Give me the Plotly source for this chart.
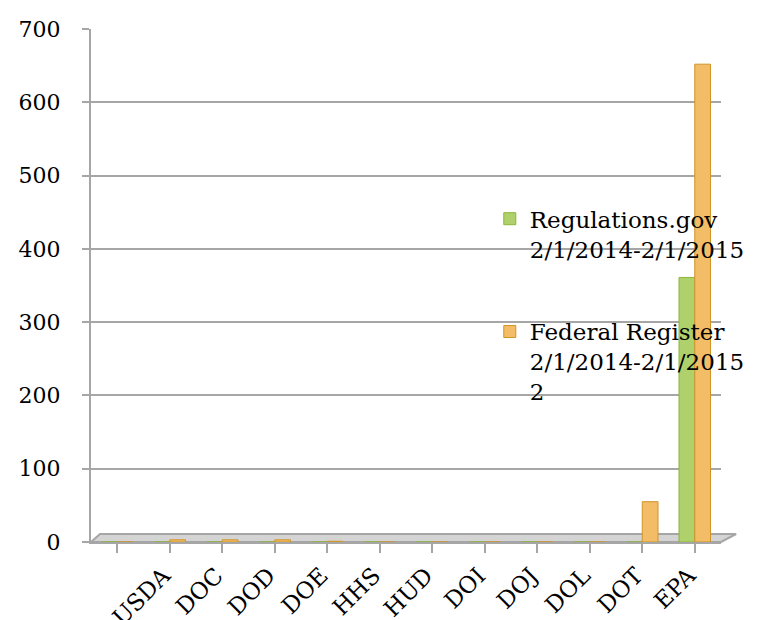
import plotly.graph_objects as go

# 12 category slots in the original chart; the first slot carries no label
categories = [" ", "USDA", "DOC", "DOD", "DOE", "HHS", "HUD", "DOI", "DOJ", "DOL", "DOT", "EPA"]
regulations_gov = [0, 0, 0, 0, 0, 0, 0, 0, 0, 0, 0, 361]
federal_register = [0, 3, 3, 3, 1, 0, 0, 0, 0, 0, 55, 652]
series_names = ["Regulations.gov<br>2/1/2014-2/1/2015", "Federal Register<br>2/1/2014-2/1/2015<br>2"]
y_ticks = [0, 100, 200, 300, 400, 500, 600, 700]

FONT = "DejaVu Serif, Liberation Serif, serif"
GRID = "#A6A6A6"

fig = go.Figure()
fig.add_trace(go.Bar(
    x=categories, y=regulations_gov, name=series_names[0], legendgroup="a",
    marker=dict(color="#AFD16B", line=dict(color="#8DB53A", width=1)),
))
fig.add_trace(go.Bar(
    x=categories, y=federal_register, name=series_names[1], legendgroup="b",
    marker=dict(color="#F3BC66", line=dict(color="#CF9428", width=1)),
))

# 3D-like floor of the chart (paper coordinates)
fig.add_shape(
    type="path", xref="paper", yref="paper", layer="below",
    path="M 0 0 L 1 0 L 1.024 0.0156 L 0.0143 0.0156 Z",
    fillcolor="#D4D4D4", line=dict(color=GRID, width=2),
)

fig.update_layout(
    width=762, height=620,
    margin=dict(l=83, r=49, t=21, b=86),
    paper_bgcolor="white", plot_bgcolor="white",
    barmode="group", bargap=0.40, bargroupgap=0.0,
    font=dict(family=FONT, size=22, color="black"),
    showlegend=True,
    legend=dict(
        x=0.633, y=0.672, xanchor="left", yanchor="top",
        bgcolor="rgba(0,0,0,0)", borderwidth=0,
        font=dict(family=FONT, size=23, color="black"),
        itemwidth=30, tracegroupgap=50, valign="top",
    ),
    xaxis=dict(
        type="category", tickangle=-45, automargin=False,
        tickfont=dict(family=FONT, size=23),
        showline=True, linecolor=GRID, linewidth=2,
        ticks="outside", ticklen=9, tickcolor=GRID, tickwidth=2,
        ticklabelstandoff=0, ticklabelshift=-6,
        showgrid=False,
    ),
    yaxis=dict(
        range=[0, 700], tickvals=y_ticks, automargin=False,
        tickfont=dict(family=FONT, size=22),
        showline=True, linecolor=GRID, linewidth=2,
        ticks="outside", ticklen=7, tickcolor=GRID, tickwidth=2,
        ticklabelstandoff=17,
        showgrid=True, gridcolor=GRID, gridwidth=2,
        zeroline=False,
    ),
)

fig.write_html("out.html")
